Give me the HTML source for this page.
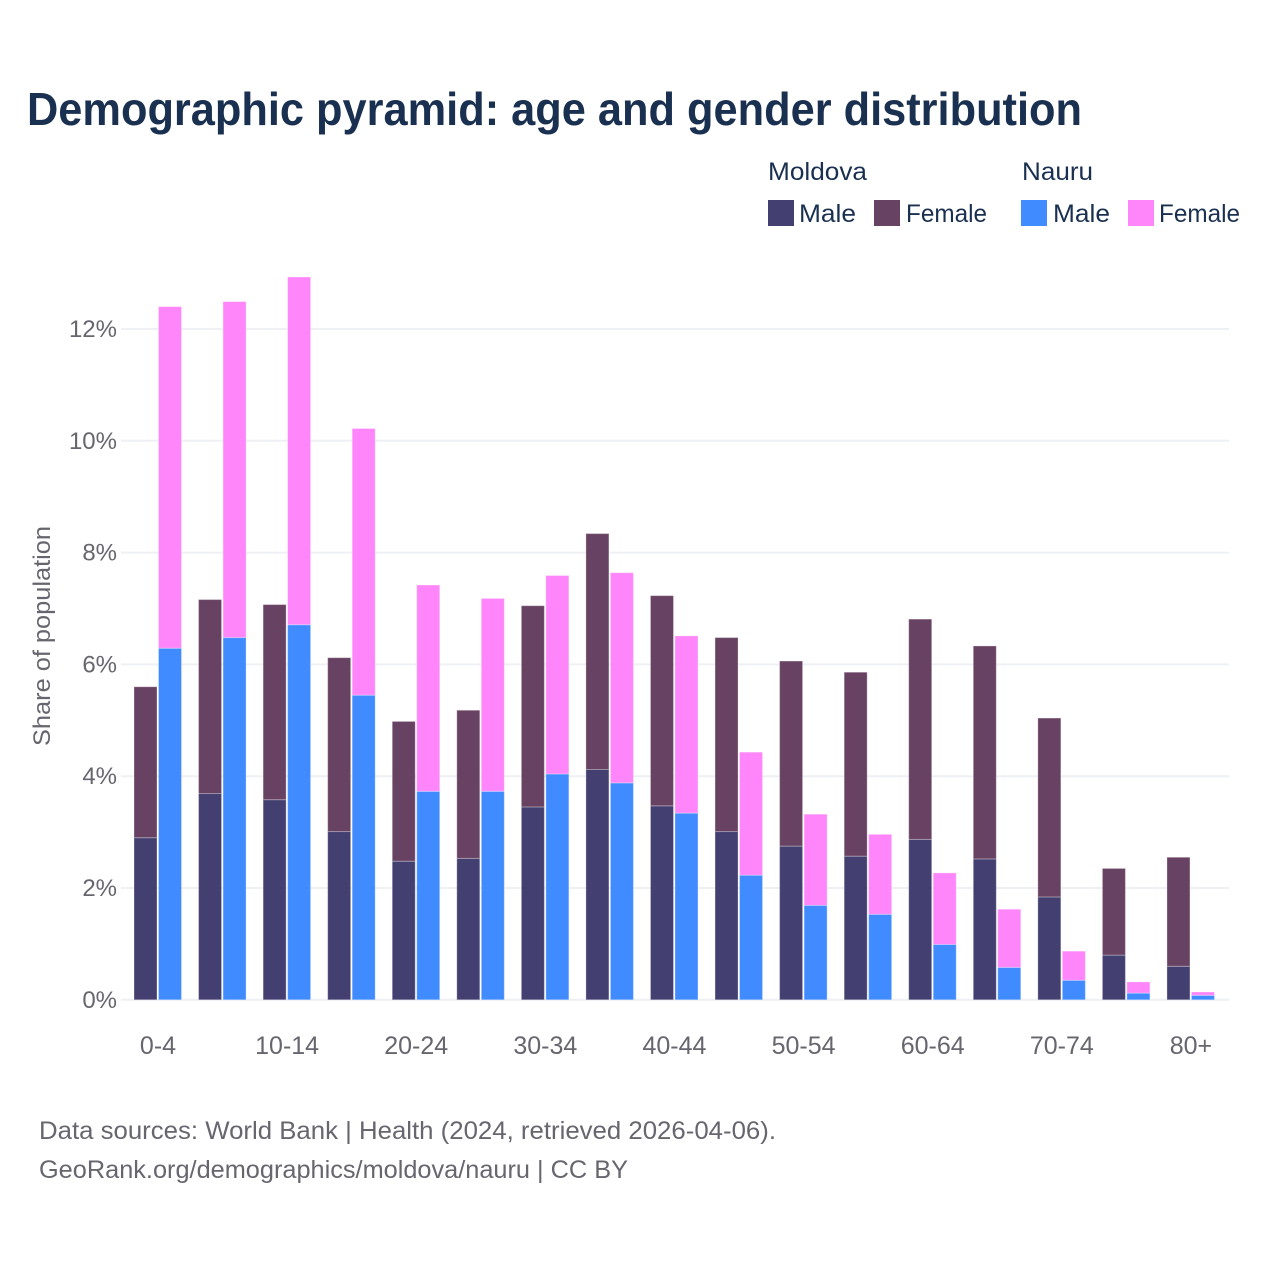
<!DOCTYPE html>
<html lang="en">
<head>
<meta charset="utf-8">
<title>Demographic pyramid</title>
<style>
html,body{margin:0;padding:0;background:#fff;width:1280px;height:1280px;overflow:hidden}
svg{display:block}
text{font-family:"Liberation Sans",sans-serif}
</style>
</head>
<body>
<svg id="chart" width="1280" height="1280" viewBox="0 0 1280 1280" xmlns="http://www.w3.org/2000/svg">
<rect x="0" y="0" width="1280" height="1280" fill="#ffffff"/>
<text x="27" y="125" font-size="46" font-weight="700" fill="#1a3050" textLength="1055" lengthAdjust="spacingAndGlyphs">Demographic pyramid: age and gender distribution</text>
<g font-size="25" fill="#1a3050">
<text x="768" y="180" textLength="99" lengthAdjust="spacingAndGlyphs">Moldova</text>
<text x="1022" y="180" textLength="71" lengthAdjust="spacingAndGlyphs">Nauru</text>
<rect x="768" y="200" width="26" height="26" fill="#433f70"/>
<text x="799" y="222" textLength="57" lengthAdjust="spacingAndGlyphs">Male</text>
<rect x="874" y="200" width="26" height="26" fill="#684262"/>
<text x="906" y="222" textLength="81" lengthAdjust="spacingAndGlyphs">Female</text>
<rect x="1021" y="200" width="26" height="26" fill="#3f8bff"/>
<text x="1053" y="222" textLength="57" lengthAdjust="spacingAndGlyphs">Male</text>
<rect x="1128" y="200" width="26" height="26" fill="#ff85fa"/>
<text x="1159" y="222" textLength="81" lengthAdjust="spacingAndGlyphs">Female</text>
</g>
<g id="grid"></g>
<g id="bars"></g>
<g id="yticks"></g>
<g id="xticks"></g>
<text transform="translate(50,746) rotate(-90)" x="0" y="0" font-size="24" fill="#66666e" textLength="220" lengthAdjust="spacingAndGlyphs">Share of population</text>
<text x="39" y="1139" font-size="25" fill="#66666e" textLength="737" lengthAdjust="spacingAndGlyphs">Data sources: World Bank | Health (2024, retrieved 2026-04-06).</text>
<text x="39" y="1178" font-size="25" fill="#66666e" textLength="589" lengthAdjust="spacingAndGlyphs">GeoRank.org/demographics/moldova/nauru | CC BY</text>
</svg>
<script>
const categories = ['0-4','5-9','10-14','15-19','20-24','25-29','30-34','35-39','40-44','45-49','50-54','55-59','60-64','65-69','70-74','75-79','80+'];
const visibleCategoryLabels = ['0-4','10-14','20-24','30-34','40-44','50-54','60-64','70-74','80+'];
const moldovaMale = [2.90,3.69,3.58,3.01,2.48,2.53,3.45,4.12,3.47,3.01,2.75,2.57,2.87,2.52,1.84,0.80,0.60];
const moldovaFemale = [2.70,3.47,3.49,3.11,2.50,2.65,3.60,4.22,3.76,3.47,3.31,3.29,3.94,3.81,3.20,1.55,1.95];
const nauruMale = [6.29,6.48,6.71,5.45,3.73,3.73,4.04,3.88,3.34,2.23,1.69,1.53,0.99,0.58,0.35,0.12,0.08];
const nauruFemale = [6.11,6.01,6.22,4.77,3.69,3.45,3.55,3.76,3.17,2.20,1.63,1.43,1.28,1.04,0.52,0.20,0.06];
const yTickValues = [0,2,4,6,8,10,12];

const NS = 'http://www.w3.org/2000/svg';
const yScale = v => 999.8 - v * 55.9;
const xCenter = i => 158 + i * 64.56;
const barWidth = 23;

const grid = document.getElementById('grid');
const yticks = document.getElementById('yticks');
yTickValues.forEach(v => {
  const line = document.createElementNS(NS, 'line');
  
  
  line.setAttribute('x1', 121);
  line.setAttribute('x2', 1229);
  line.setAttribute('y1', yScale(v));
  line.setAttribute('y2', yScale(v));
  line.setAttribute('stroke', '#eef0f4');
  line.setAttribute('stroke-width', 2);
  grid.appendChild(line);
  const label = document.createElementNS(NS, 'text');
  
  
  label.setAttribute('x', 117);
  label.setAttribute('y', yScale(v) + 8);
  label.setAttribute('text-anchor', 'end');
  label.setAttribute('font-size', 24);
  label.setAttribute('fill', '#66666e');
  label.textContent = v + '%';
  yticks.appendChild(label);
});

const barsGroup = document.getElementById('bars');
function addBar(x, base, value, color) {
  const r = document.createElementNS(NS, 'rect');
  
  
  r.setAttribute('x', x);
  r.setAttribute('y', yScale(base + value));
  r.setAttribute('width', barWidth);
  r.setAttribute('height', yScale(base) - yScale(base + value));
  r.setAttribute('fill', color);
  r.setAttribute('stroke', '#ffffff');
  r.setAttribute('stroke-opacity', '0.3');
  r.setAttribute('stroke-width', 1);
  barsGroup.appendChild(r);
}
categories.forEach((c, i) => {
  const cx = xCenter(i);
  addBar(cx - 24, 0, moldovaMale[i], '#433f70');
  addBar(cx - 24, moldovaMale[i], moldovaFemale[i], '#684262');
  addBar(cx + 0.5, 0, nauruMale[i], '#3f8bff');
  addBar(cx + 0.5, nauruMale[i], nauruFemale[i], '#ff85fa');
});

const xticks = document.getElementById('xticks');
categories.forEach((c, i) => {
  if (!visibleCategoryLabels.includes(c)) return;
  const t = document.createElementNS(NS, 'text');
  
  
  t.setAttribute('x', xCenter(i));
  t.setAttribute('y', 1054);
  t.setAttribute('text-anchor', 'middle');
  t.setAttribute('font-size', 25);
  t.setAttribute('fill', '#66666e');
  t.textContent = c;
  xticks.appendChild(t);
});
</script>
</body>
</html>
